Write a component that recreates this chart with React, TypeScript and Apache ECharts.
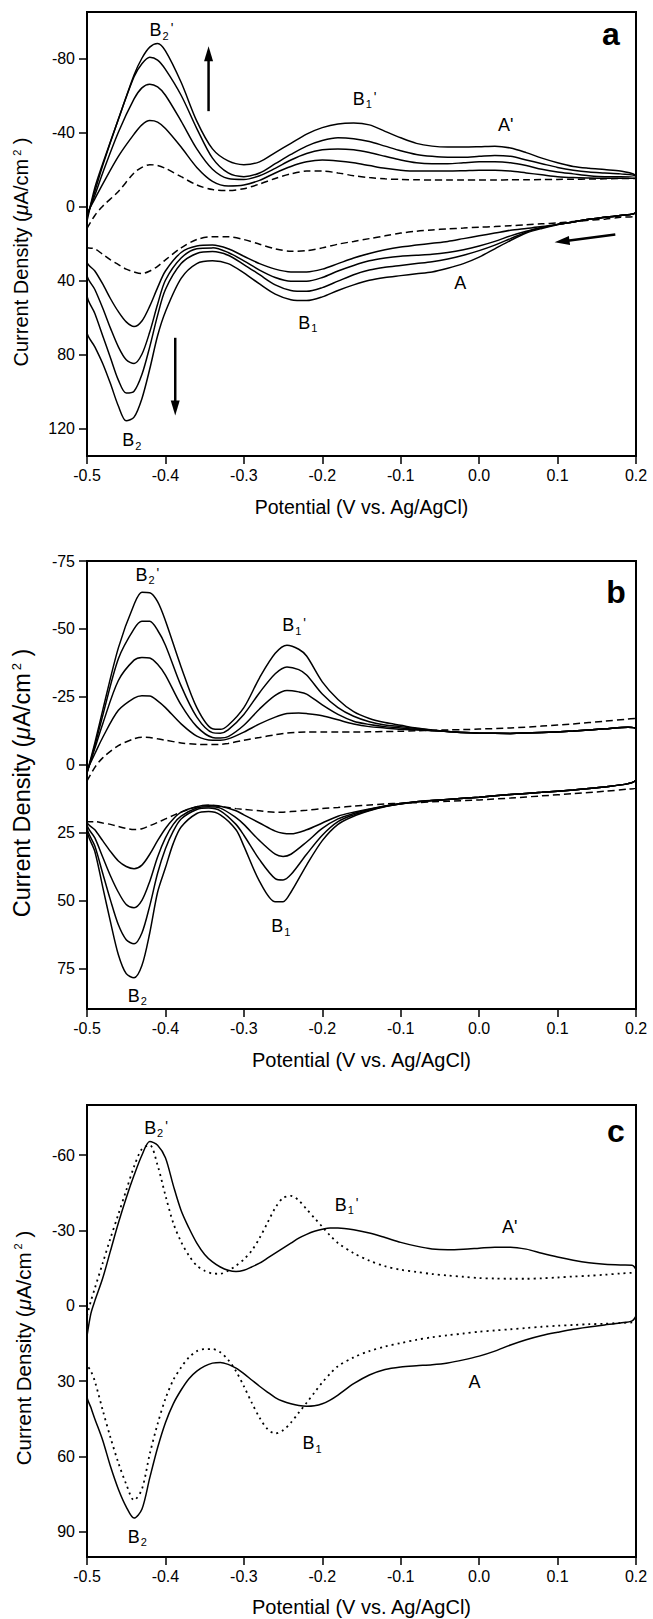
import React, { useEffect, useRef } from 'react';
import * as echarts from 'echarts';

const FONT = '"Liberation Sans", Arial, Helvetica, sans-serif';

// ---------- Panel a ----------
const XA_UP = [-0.5, -0.49, -0.48, -0.46, -0.44, -0.43, -0.42, -0.41, -0.40, -0.38, -0.36, -0.34, -0.32, -0.30, -0.28, -0.26, -0.24, -0.22, -0.20, -0.18, -0.16, -0.14, -0.12, -0.10, -0.08, -0.06, -0.04, -0.02, 0, 0.02, 0.04, 0.06, 0.08, 0.10, 0.12, 0.14, 0.16, 0.18, 0.2];
const A1_UP = [8, -10, -23, -47, -71, -80, -86, -88, -84, -67, -46, -31, -24.5, -22.5, -24, -29, -34, -39, -42.5, -44.5, -45, -44, -40.5, -37, -34, -32.5, -32, -32, -32.2, -32.5, -31.5, -29, -26, -23.5, -21.5, -20.5, -19.8, -19, -16];
const A2_UP = [6, -8, -22, -47, -70, -77, -80.5, -79, -74, -60, -42, -26, -18, -16, -18, -23, -28, -32.5, -35.5, -37, -36.5, -35, -32.5, -30, -28, -27, -26.5, -26.5, -27, -27.5, -27, -25, -23, -21, -19.5, -18.5, -18, -17.5, -16];
const A3_UP = [5, -6, -18, -40, -58, -64, -66, -64.5, -60, -46, -31, -20, -15, -14.5, -16.5, -20.5, -25, -28.5, -30.5, -31, -30.5, -29, -27, -25, -23.5, -23, -23, -23.5, -24, -24, -23.5, -22, -20, -18.5, -17.5, -16.5, -16, -16, -15.5];
const A4_UP = [4, -4, -12, -27, -39, -44, -46.3, -45.5, -42, -32, -21, -13.5, -11, -11.5, -14, -18, -21.5, -24, -25, -24.5, -23.5, -22, -20.5, -19.5, -19, -19, -19, -19.2, -19.5, -19.5, -19, -18, -17, -16, -15.5, -15.3, -15.2, -15.2, -15];
const A0_UP = [12, 5, 0, -8, -18, -21, -22.5, -22, -20.5, -16, -11.5, -9, -8.5, -9.5, -12, -15, -17.5, -19, -19, -18, -16.5, -15.5, -14.8, -14.5, -14.3, -14.2, -14.2, -14.2, -14.2, -14.2, -14.3, -14.3, -14.4, -14.5, -14.6, -14.7, -14.8, -15, -15];

const XA_LO = [-0.5, -0.49, -0.48, -0.47, -0.46, -0.45, -0.44, -0.43, -0.42, -0.41, -0.40, -0.38, -0.36, -0.34, -0.32, -0.30, -0.28, -0.26, -0.24, -0.22, -0.20, -0.18, -0.16, -0.14, -0.12, -0.10, -0.08, -0.06, -0.04, -0.02, 0, 0.02, 0.04, 0.06, 0.08, 0.10, 0.12, 0.14, 0.16, 0.18, 0.2];
const A1_LO = [68, 76, 85, 96, 108, 116, 114, 104, 88, 70, 57, 39, 31, 29.5, 31, 36, 42, 47.5, 50.5, 51, 49, 45.5, 42.5, 40, 38.5, 37.5, 36.5, 35.5, 33.5, 31, 27.5, 23, 18.5, 14.5, 12, 10, 8.5, 7, 6, 5, 3];
const A2_LO = [48, 58, 70, 82, 94, 101, 100, 91, 76, 59, 45, 31, 25.5, 24.5, 26.5, 31.5, 37, 42.5, 45.5, 46, 44, 40.5, 37, 34.5, 33, 32, 31, 30, 28.5, 26.5, 24, 21, 17.5, 14, 11.5, 9.8, 8.5, 7, 6, 5, 3];
const A3_LO = [37, 45, 55, 66, 76, 83, 85, 80, 68, 53, 40, 28, 23, 22.5, 25, 29.5, 34.5, 38.5, 40.5, 40.5, 38.5, 35, 32, 29.5, 28, 27, 26.5, 26, 25, 23.5, 21.5, 19, 16, 13.5, 11.5, 9.8, 8.5, 7, 6, 5, 3];
const A4_LO = [30, 35, 42, 50, 57, 62.5, 65, 62, 54, 44, 35, 25, 21.5, 21, 23, 27, 31, 34, 35.5, 35.5, 34, 31, 28, 25.5, 23.5, 22, 21, 20, 19, 17.5, 16, 14.5, 13, 12, 11, 9.8, 8.5, 7, 6, 5, 3];
const A0_LO = [22, 23, 26, 29, 31.5, 34, 35.5, 36.4, 35, 32.5, 29, 22.5, 18, 16.5, 16.5, 18, 20.5, 23, 24.3, 24, 22.5, 20.5, 19, 17.5, 16, 14.5, 13.5, 12.8, 12.2, 11.8, 11.3, 11, 10.5, 10, 9.5, 9, 8.3, 7.6, 7, 6, 5];

// ---------- Panel b ----------
const XB_UP = [-0.5, -0.49, -0.48, -0.46, -0.44, -0.43, -0.42, -0.41, -0.40, -0.38, -0.36, -0.34, -0.33, -0.32, -0.30, -0.28, -0.26, -0.245, -0.23, -0.22, -0.20, -0.18, -0.16, -0.14, -0.12, -0.10, -0.08, -0.06, -0.04, -0.02, 0, 0.04, 0.08, 0.12, 0.16, 0.19, 0.2];
const B1_UP = [3, -8, -20, -43, -59, -63.5, -63.3, -60, -53, -36, -21, -13.2, -13, -14.5, -21, -32, -41, -44, -42.5, -40, -30.5, -24, -19.5, -17, -15.5, -14.5, -13.5, -12.8, -12.2, -11.8, -11.6, -11.5, -11.8, -12.4, -13.2, -13.8, -13];
const B2_UP = [3, -7, -18, -39, -50, -52.8, -52.8, -49.5, -44, -29, -17.5, -11.8, -11.6, -12.8, -18.5, -26.5, -33.5, -36, -35, -33, -26, -21, -17.8, -15.8, -14.6, -14, -13.3, -12.7, -12.2, -11.8, -11.6, -11.5, -11.8, -12.4, -13.2, -13.8, -13];
const B3_UP = [3, -6, -15, -31, -38.5, -39.5, -39.3, -37, -33, -22, -14, -10, -9.8, -10.3, -14.5, -20.5, -25.5, -27.3, -26.8, -26, -22, -18.5, -16, -14.8, -14, -13.5, -13, -12.6, -12.2, -11.8, -11.6, -11.5, -11.8, -12.4, -13.2, -13.8, -13];
const B4_UP = [2, -4, -10, -20, -24.5, -25.4, -25.3, -23.5, -21, -15, -10.5, -9, -9, -9.5, -12, -15, -17.5, -18.8, -19, -18.8, -18, -16.5, -15, -14, -13.5, -13, -12.8, -12.5, -12.2, -11.8, -11.6, -11.5, -11.8, -12.4, -13.2, -13.8, -13];
const B0_UP = [6, 1, -2.5, -7, -9.5, -10.1, -10, -9.5, -9, -8, -7.5, -7.4, -7.5, -7.8, -9, -10, -11, -11.6, -11.9, -12, -12, -12, -12, -12.1, -12.2, -12.3, -12.5, -12.6, -12.8, -12.9, -13.1, -13.5, -14.2, -15, -16, -16.8, -17];

const XB_LO = [-0.5, -0.49, -0.48, -0.47, -0.46, -0.45, -0.44, -0.43, -0.42, -0.41, -0.40, -0.39, -0.38, -0.36, -0.345, -0.33, -0.31, -0.30, -0.28, -0.26, -0.25, -0.24, -0.22, -0.20, -0.18, -0.16, -0.14, -0.12, -0.10, -0.08, -0.06, -0.04, 0, 0.04, 0.08, 0.12, 0.16, 0.19, 0.2];
const B1_LO = [24, 32, 45, 58, 70, 77, 78.5, 74, 62, 47, 38, 29, 23, 18, 17.3, 18.5, 24, 30, 43, 50.5, 50.5, 47, 37, 28, 22, 19, 17, 15.5, 14.5, 13.7, 13.2, 12.8, 12, 11, 10.2, 9.3, 8.2, 7, 5.5];
const B2_LO = [23, 30, 40, 50, 59, 64.5, 66, 62, 52, 40, 31, 24.5, 20, 16.5, 16, 17, 22, 26, 35, 42, 42.5, 40.5, 33, 26, 21, 18.5, 16.8, 15.3, 14.4, 13.7, 13.2, 12.8, 12, 11, 10.2, 9.3, 8.2, 7, 5.5];
const B3_LO = [22, 27, 34, 41, 47, 51.5, 52.7, 50, 43, 34, 27, 22, 19, 16, 15.5, 16, 19.5, 22, 28, 33, 33.8, 33, 28.5, 23.5, 20, 18, 16.5, 15.2, 14.3, 13.7, 13.2, 12.8, 12, 11, 10.2, 9.3, 8.2, 7, 5.5];
const B4_LO = [21, 24, 28, 32, 35.5, 37.5, 38.3, 37, 33, 28, 23.5, 20, 17.5, 15.5, 15, 15.3, 17, 18.5, 21.5, 24.5, 25.3, 25.5, 24, 21.5, 19, 17.5, 16.3, 15.3, 14.4, 13.7, 13.2, 12.8, 12, 11, 10.2, 9.3, 8.2, 7, 5.5];
const B0_LO = [21, 21, 21.5, 22, 22.8, 23.5, 23.9, 23.6, 22.5, 21.3, 20, 18.7, 17.5, 15.5, 15, 15.4, 16.2, 16.5, 17, 17.5, 17.5, 17.3, 16.8, 16.2, 15.8, 15.3, 14.9, 14.5, 14.2, 14, 13.7, 13.5, 13, 12.3, 11.5, 10.7, 9.8, 9, 8.5];

// ---------- Panel c ----------
const XC = [-0.5, -0.495, -0.49, -0.48, -0.47, -0.46, -0.45, -0.44, -0.43, -0.42, -0.41, -0.40, -0.39, -0.38, -0.37, -0.36, -0.35, -0.34, -0.33, -0.32, -0.31, -0.30, -0.29, -0.28, -0.27, -0.26, -0.25, -0.24, -0.23, -0.22, -0.21, -0.20, -0.19, -0.18, -0.16, -0.14, -0.12, -0.10, -0.08, -0.06, -0.04, -0.02, 0, 0.02, 0.04, 0.06, 0.08, 0.10, 0.12, 0.14, 0.16, 0.18, 0.195, 0.2];
const C1_UP = [12, 3, -2, -11, -22, -33, -43, -52, -60, -65.5, -64, -59, -48, -38, -31, -25, -20.5, -17.5, -15.5, -14.2, -13.7, -14.2, -15.5, -17, -19, -21, -23, -25, -27, -28.5, -29.7, -30.5, -31, -31, -30.3, -29, -27.2, -25.3, -23.8, -22.7, -22.4, -22.6, -23, -23.4, -23.4, -22.6, -21, -19.5, -18.2, -17.2, -16.6, -16.3, -16.2, -14];
const C0_UP = [4, -2, -7, -17, -27, -36.5, -46, -55.5, -62.5, -64, -56, -44, -33, -25.5, -20, -16, -14, -12.9, -12.8, -14, -16, -18.5, -22, -27, -33, -39, -43, -43.8, -42, -38.5, -35, -31.5, -28, -25, -21, -18, -15.8, -14.4, -13.5, -12.7, -12.1, -11.6, -11.1, -10.9, -10.8, -10.8, -11, -11.3, -11.7, -12, -12.4, -12.9, -13.2, -13.3];
const C1_LO = [36, 40.5, 45, 53.5, 64, 73, 80, 84.5, 81, 68.5, 56.5, 46.5, 39, 33.5, 29, 26, 24, 22.8, 22.5, 23.3, 24.8, 27, 29.5, 32, 34.3, 36.5, 38, 39, 39.7, 40, 39.8, 39, 37.5, 35.5, 31, 27.5, 25.3, 24.3, 23.8, 23.4, 22.7, 21.5, 20, 18, 15.6, 13.5, 11.8, 10.5, 9.3, 8.4, 7.6, 6.8, 6, 3.5];
const C0_LO = [23, 26, 30, 41.5, 52.5, 62.5, 71, 77.4, 73, 59, 47, 37, 29.5, 24.5, 20.5, 18, 17.2, 17.2, 18.5, 21.5, 26, 32, 38.5, 44.5, 49, 50.8, 49.5, 46.5, 42.5, 38.6, 34.5, 30.5, 27, 24, 20.5, 18, 16.2, 14.8, 13.5, 12.5, 11.7, 11, 10.3, 9.8, 9.3, 8.8, 8.3, 7.9, 7.6, 7.3, 7.1, 6.8, 6.6, 6.5];

// ---------- Axes ticks ----------
const X_MIN = -0.5;
const X_MAX = 0.2;
const X_STEP = 0.1;
const YA_TICKS = [-80, -40, 0, 40, 80, 120];
const YB_TICKS = [-75, -50, -25, 0, 25, 50, 75];
const YC_TICKS = [-60, -30, 0, 30, 60, 90];
const YA_RANGE = [-105, 135];
const YB_RANGE = [-75, 90];
const YC_RANGE = [-80, 100];

// ---------- Annotations ----------
const ANN_A = [
  { x: -0.405, y: -94.5, t: "{b|B}{s|2}{p|'}" },
  { x: -0.146, y: -57.5, t: "{b|B}{s|1}{p|'}" },
  { x: 0.034, y: -43.2, t: "{b|A'}" },
  { x: -0.024, y: 41.8, t: '{b|A}' },
  { x: -0.2185, y: 63.5, t: '{b|B}{s|1}' },
  { x: -0.443, y: 127, t: '{b|B}{s|2}' },
];
const ANN_B = [
  { x: -0.423, y: -69.5, t: "{b|B}{s|2}{p|'}" },
  { x: -0.236, y: -51, t: "{b|B}{s|1}{p|'}" },
  { x: -0.253, y: 59.8, t: '{b|B}{s|1}' },
  { x: -0.436, y: 85.5, t: '{b|B}{s|2}' },
];
const ANN_C = [
  { x: -0.412, y: -70.5, t: "{b|B}{s|2}{p|'}" },
  { x: -0.169, y: -39.8, t: "{b|B}{s|1}{p|'}" },
  { x: 0.039, y: -30.9, t: "{b|A'}" },
  { x: -0.006, y: 30.8, t: '{b|A}' },
  { x: -0.213, y: 55, t: '{b|B}{s|1}' },
  { x: -0.436, y: 92.3, t: '{b|B}{s|2}' },
];
// arrows: [x1, y1, x2(tip), y2(tip)]
const ARROWS_A = [
  [-0.345, -51.4, -0.345, -86.5],
  [-0.3875, 71.1, -0.3875, 113.1],
  [0.1736, 15.3, 0.0962, 19.5],
];

function loopData(ux: number[], uv: number[], lx: number[], lv: number[]) {
  const pts: number[][] = ux.map((x, i) => [x, uv[i]]);
  for (let i = lx.length - 1; i >= 0; i--) pts.push([lx[i], lv[i]]);
  pts.push([ux[0], uv[0]]);
  return pts;
}

const LABEL_RICH: any = {
  b: { fontSize: 18, fontFamily: FONT, fill: '#000', lineHeight: 20, verticalAlign: 'top', padding: [0, 0, 3, 0] },
  s: { fontSize: 11, fontFamily: FONT, fill: '#000', lineHeight: 10, verticalAlign: 'bottom', padding: [0, 0, 0, 1] },
  p: { fontSize: 14, fontFamily: FONT, fill: '#000', lineHeight: 12, verticalAlign: 'top', padding: [0, 0, 0, 2] },
};

const GRIDS = [
  { left: 87, width: 549, top: 12, height: 444 },
  { left: 87, width: 549, top: 561, height: 448 },
  { left: 87, width: 549, top: 1105, height: 452 },
];

function xAxis(k: number, nameGap: number, nameSize: number) {
  return {
    type: 'value', gridIndex: k, min: X_MIN, max: X_MAX, interval: X_STEP,
    axisLine: { show: true, onZero: false, lineStyle: { color: '#000', width: 2 } },
    axisTick: { show: true, length: 8, lineStyle: { color: '#000', width: 1.5 } },
    axisLabel: {
      fontSize: 16, color: '#000', fontFamily: FONT, margin: 11,
      formatter: (v: number) => (Math.abs(v) < 1e-9 ? '0.0' : v.toFixed(1)),
    },
    splitLine: { show: false },
    name: 'Potential (V vs. Ag/AgCl)', nameLocation: 'middle', nameGap,
    nameTextStyle: { fontSize: nameSize, color: '#000', fontFamily: FONT },
  };
}
function yAxis(k: number, range: number[], ticks: number[]) {
  return {
    type: 'value', gridIndex: k, min: range[0], max: range[1], inverse: true,
    axisLine: { show: true, onZero: false, lineStyle: { color: '#000', width: 2 } },
    axisTick: { show: true, length: 8, customValues: ticks, lineStyle: { color: '#000', width: 1.5 } },
    axisLabel: { customValues: ticks, fontSize: 16, color: '#000', fontFamily: FONT, margin: 12 },
    splitLine: { show: false },
  };
}

function lineSeries(k: number, data: number[][], kind: 'solid' | 'dashed' | 'dotted') {
  const style: any = { color: '#000', width: 1.5, type: 'solid' };
  if (kind === 'dashed') { style.type = [7, 4]; }
  if (kind === 'dotted') { style.type = [2, 4]; style.width = 1.8; }
  return {
    type: 'line', xAxisIndex: k, yAxisIndex: k, data, symbol: 'none', showSymbol: false,
    smooth: 0.3, lineStyle: style, silent: true, z: 2,
  };
}
function labelSeries(k: number, ann: { x: number; y: number; t: string }[]) {
  return {
    type: 'custom', xAxisIndex: k, yAxisIndex: k, silent: true, z: 5,
    data: ann.map((a) => [a.x, a.y]),
    encode: { x: 0, y: 1 },
    renderItem: (params: any, api: any) => {
      const p = api.coord([api.value(0), api.value(1)]);
      return {
        type: 'text', x: p[0], y: p[1],
        style: {
          text: ann[params.dataIndex].t, align: 'center', verticalAlign: 'middle',
          fill: '#000', fontSize: 18, fontFamily: FONT, rich: LABEL_RICH,
        },
      };
    },
  };
}
function arrowSeries(k: number, arrows: number[][]) {
  return {
    type: 'custom', xAxisIndex: k, yAxisIndex: k, data: arrows, silent: true, z: 5,
    encode: { x: [0, 2], y: [1, 3] },
    renderItem: (_p: any, api: any) => {
      const p1 = api.coord([api.value(0), api.value(1)]);
      const p2 = api.coord([api.value(2), api.value(3)]);
      const dx = p2[0] - p1[0];
      const dy = p2[1] - p1[1];
      const L = Math.hypot(dx, dy) || 1;
      const ux = dx / L;
      const uy = dy / L;
      const hl = 15;
      const hw = 4.5;
      const bx = p2[0] - ux * hl;
      const by = p2[1] - uy * hl;
      return {
        type: 'group',
        children: [
          { type: 'line', shape: { x1: p1[0], y1: p1[1], x2: bx + ux * 2, y2: by + uy * 2 }, style: { stroke: '#000', lineWidth: 2.5 } },
          { type: 'polygon', shape: { points: [[p2[0], p2[1]], [bx - uy * hw, by + ux * hw], [bx + uy * hw, by - ux * hw]] }, style: { fill: '#000' } },
        ],
      };
    },
  };
}

function yName(x: number, y: number, fs: number) {
  return {
    type: 'text', x, y, rotation: Math.PI / 2, silent: true,
    style: {
      text: '{t|Current Density (}{i|μ}{t|A/cm}{sup|2}{t| )}',
      align: 'center', verticalAlign: 'middle', fill: '#000', fontSize: fs, fontFamily: FONT,
      rich: {
        t: { fontSize: fs, fontFamily: FONT, fill: '#000', color: '#000' },
        i: { fontSize: fs, fontFamily: FONT, fontStyle: 'italic', fill: '#000', color: '#000' },
        sup: { fontSize: Math.round(fs * 0.55), fontFamily: FONT, fill: '#000', color: '#000', verticalAlign: 'top', lineHeight: Math.round(fs * 0.7), padding: [0, 0, 0, 3] },
      },
    },
  };
}
function panelLetter(t: string, x: number, y: number) {
  return {
    type: 'text', x, y, silent: true,
    style: { text: t, fontSize: 32, fontWeight: 'bold', fontFamily: FONT, fill: '#000', align: 'center', verticalAlign: 'middle' },
  };
}

const option: any = {
  animation: false,
  backgroundColor: '#fff',
  grid: GRIDS.map((g) => ({ ...g, show: true, borderColor: '#000', borderWidth: 2, backgroundColor: 'transparent' })),
  xAxis: [xAxis(0, 41, 19.5), xAxis(1, 41, 20), xAxis(2, 40, 20)],
  yAxis: [yAxis(0, YA_RANGE, YA_TICKS), yAxis(1, YB_RANGE, YB_TICKS), yAxis(2, YC_RANGE, YC_TICKS)],
  graphic: [
    yName(21, 252, 20),
    yName(22, 783, 23.5),
    yName(23, 1348, 20.5),
    panelLetter('a', 611, 34),
    panelLetter('b', 616, 592),
    panelLetter('c', 616, 1131),
  ],
  series: [
    lineSeries(0, loopData(XA_UP, A1_UP, XA_LO, A1_LO), 'solid'),
    lineSeries(0, loopData(XA_UP, A2_UP, XA_LO, A2_LO), 'solid'),
    lineSeries(0, loopData(XA_UP, A3_UP, XA_LO, A3_LO), 'solid'),
    lineSeries(0, loopData(XA_UP, A4_UP, XA_LO, A4_LO), 'solid'),
    lineSeries(0, loopData(XA_UP, A0_UP, XA_LO, A0_LO), 'dashed'),
    lineSeries(1, loopData(XB_UP, B1_UP, XB_LO, B1_LO), 'solid'),
    lineSeries(1, loopData(XB_UP, B2_UP, XB_LO, B2_LO), 'solid'),
    lineSeries(1, loopData(XB_UP, B3_UP, XB_LO, B3_LO), 'solid'),
    lineSeries(1, loopData(XB_UP, B4_UP, XB_LO, B4_LO), 'solid'),
    lineSeries(1, loopData(XB_UP, B0_UP, XB_LO, B0_LO), 'dashed'),
    lineSeries(2, loopData(XC, C1_UP, XC, C1_LO), 'solid'),
    lineSeries(2, loopData(XC, C0_UP, XC, C0_LO), 'dotted'),
    labelSeries(0, ANN_A),
    labelSeries(1, ANN_B),
    labelSeries(2, ANN_C),
    arrowSeries(0, ARROWS_A),
  ],
};

export default function App() {
  const ref = useRef<HTMLDivElement>(null);
  useEffect(() => {
    const chart = echarts.init(ref.current as HTMLDivElement, null, { renderer: 'svg' });
    chart.setOption(option);
    return () => chart.dispose();
  }, []);
  return (
    <div
      ref={ref}
      style={{ position: 'absolute', left: 0, top: 0, width: 653, height: 1619, background: '#fff' }}
    />
  );
}
